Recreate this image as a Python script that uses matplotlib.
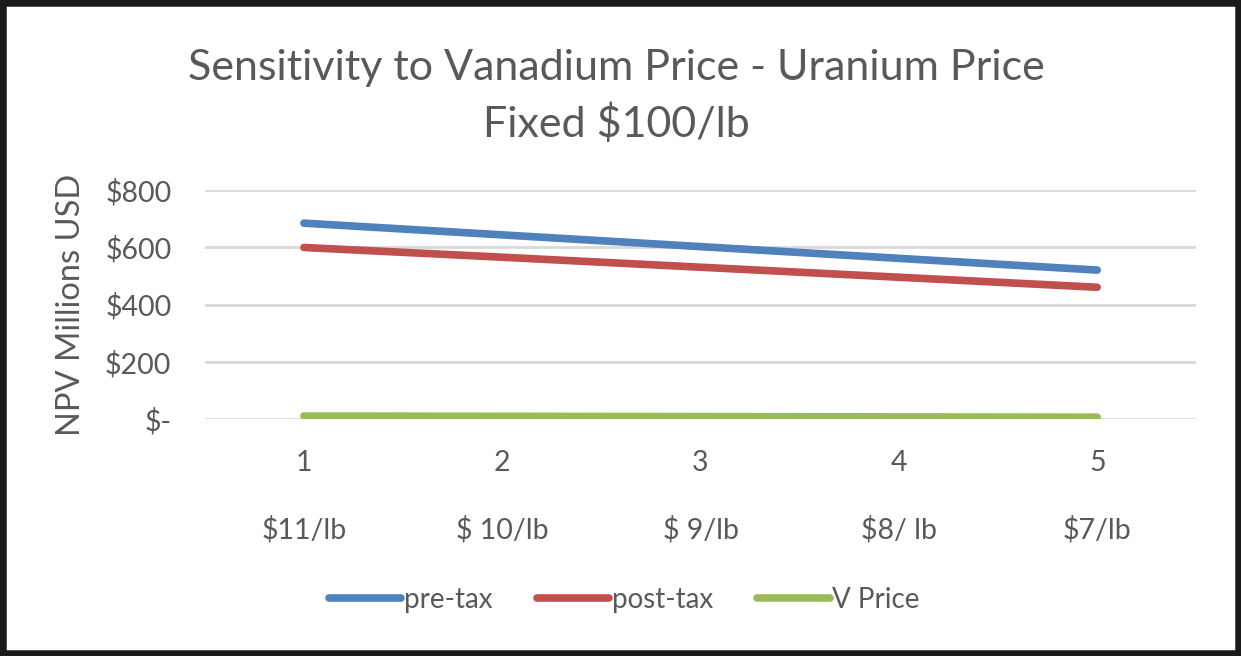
import matplotlib
matplotlib.use("Agg")
import matplotlib.pyplot as plt
from matplotlib.patches import Rectangle
from matplotlib.ticker import FuncFormatter

# data
scenarios = [1, 2, 3, 4, 5]
price_labels = ["$11/lb", "$ 10/lb", "$ 9/lb", "$8/ lb", "$7/lb"]
pre_tax = [685, 644, 603, 562, 521]
post_tax = [600, 566, 531, 496, 461]
v_price = [11, 10, 9, 8, 7]

plt.rcParams["font.family"] = ["Lato", "DejaVu Sans"]
GREY = "#595959"

fig = plt.figure(figsize=(12.41, 6.56), dpi=100)
ax = fig.add_axes([0.165, 0.361, 0.799, 0.349])

ax.plot(scenarios, pre_tax, color="#4F81BD", lw=5.5, solid_capstyle="round", label="pre-tax")
ax.plot(scenarios, post_tax, color="#C0504D", lw=5.5, solid_capstyle="round", label="post-tax")
ax.plot(scenarios, v_price, color="#9BBB59", lw=5.5, solid_capstyle="round", label="V Price")

ax.set_xlim(0.5, 5.5)
ax.set_ylim(0, 800)
ax.set_yticks([0, 200, 400, 600, 800])
ax.yaxis.set_major_formatter(FuncFormatter(lambda v, p: "$-" if v == 0 else "${:,.0f}".format(v)))
ax.set_xticks(scenarios)
ax.grid(axis="y", color="#D9D9D9", lw=2)
ax.set_axisbelow(True)
for s in ax.spines.values():
    s.set_visible(False)
ax.tick_params(length=0, colors=GREY, labelsize=20.5)
ax.tick_params(axis="y", pad=24)
ax.tick_params(axis="x", pad=22)

# second row of category labels (vanadium price)
for x, lab in zip(scenarios, price_labels):
    ax.text(x, -0.485, lab, transform=ax.get_xaxis_transform(), ha="center", va="center",
            fontsize=20.5, color=GREY)

ax.set_ylabel("NPV Millions USD", fontsize=23.5, color=GREY, labelpad=14)

fig.text(0.497, 0.853, "Sensitivity to Vanadium Price - Uranium Price\nFixed $100/lb",
         ha="center", va="center", fontsize=31, color=GREY, linespacing=1.48)

fig.legend(loc="center", bbox_to_anchor=(0.503, 0.086), ncol=3, frameon=False,
           fontsize=20, labelcolor=GREY, handlelength=2.6, handletextpad=0.1,
           columnspacing=1.6)

fig.patches.append(Rectangle((0, 0), 1, 1, transform=fig.transFigure, fill=False,
                             edgecolor="#1a1a1a", lw=9, clip_on=False))

fig.savefig("out.png", dpi=100)
